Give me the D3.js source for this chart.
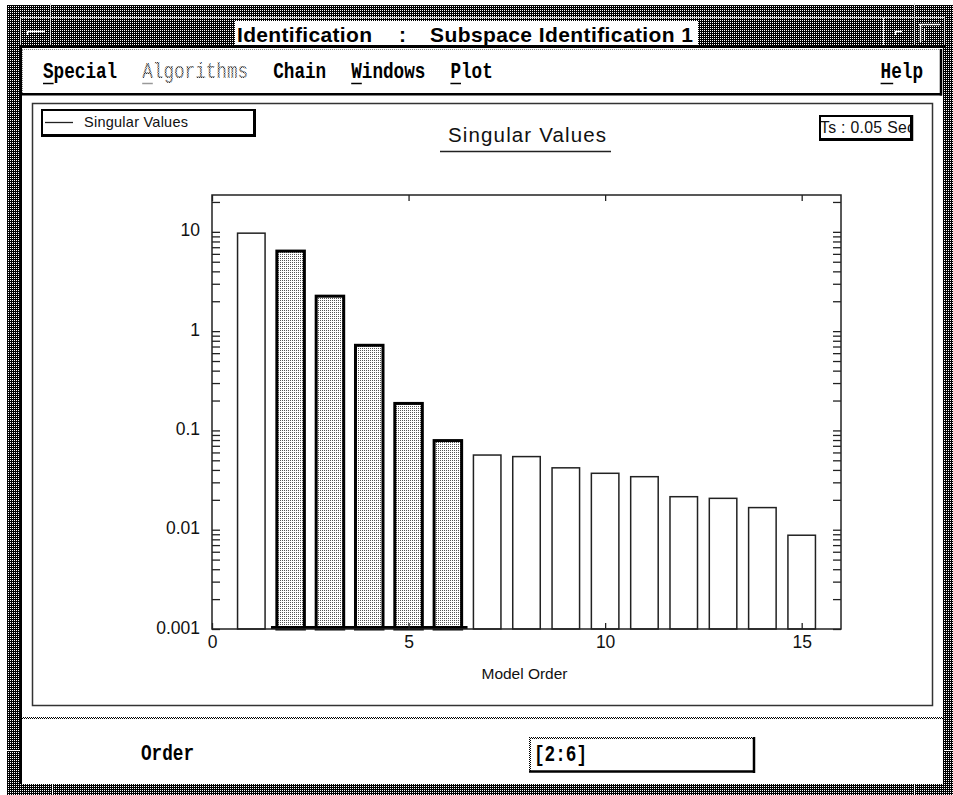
<!DOCTYPE html>
<html>
<head>
<meta charset="utf-8">
<script src="https://cdn.jsdelivr.net/npm/d3@7"></script>
<style>
  html, body { margin: 0; padding: 0; background: #fff; }
  svg { display: block; }
</style>
</head>
<body>
<svg id="win" width="953" height="795"></svg>
<script>
"use strict";

// chart data
const orders = [1, 2, 3, 4, 5, 6, 7, 8, 9, 10, 11, 12, 13, 14, 15];
const singularValues = [9.7, 6.4, 2.25, 0.72, 0.187, 0.079, 0.0565, 0.0545, 0.042, 0.037, 0.0342, 0.0215, 0.0207, 0.0167, 0.0088];
const selectedRange = [2, 6];
const yTicks = [0.001, 0.01, 0.1, 1, 10];
const yTickLabels = ["0.001", "0.01", "0.1", "1", "10"];
const xTicks = [0, 5, 10, 15];

// window texts
const menuItems = ["Special", "Algorithms", "Chain", "Windows", "Plot"];
const disabledItems = ["Algorithms"];
const underlinedItems = ["Special", "Algorithms", "Windows", "Plot", "Help"];
const windowTitle = ["Identification", ":", "Subspace Identification 1"];

const svg = d3.select("#win");
const defs = svg.append("defs");

/**
 * Small pixel pattern, like the X11 stipples of the original window.
 */
function pixelPattern(id, bg, fg, cells) {
  const p = defs.append("pattern")
    .attr("id", id)
    .attr("patternUnits", "userSpaceOnUse")
    .attr("width", 2).attr("height", 2);
  p.append("rect").attr("width", 2).attr("height", 2).attr("fill", bg);
  cells.forEach(c => {
    p.append("rect").attr("x", c[0]).attr("y", c[1])
      .attr("width", 1).attr("height", 1).attr("fill", fg);
  });
}
pixelPattern("frame", "#000", "#fff", [[0, 0]]);
pixelPattern("checker", "#fff", "#000", [[0, 0], [1, 1]]);
pixelPattern("dots", "#fff", "#555", [[0, 0]]);

function box(x0, y0, x1, y1, fill) {
  return svg.append("rect")
    .attr("x", x0).attr("y", y0)
    .attr("width", x1 - x0).attr("height", y1 - y0)
    .attr("fill", fill);
}

function line(x1, y1, x2, y2, color, w) {
  return svg.append("line")
    .attr("x1", x1).attr("y1", y1).attr("x2", x2).attr("y2", y2)
    .attr("stroke", color).attr("stroke-width", w);
}

// bitmap-looking bold serif, monospaced
const charW = 10.6;
function monoText(x, y, str, fill, weight) {
  return svg.append("text")
    .attr("transform", `translate(${x},${y}) scale(1,1.25)`)
    .attr("font-family", "'Liberation Mono', 'Courier New', monospace")
    .attr("font-weight", weight || "bold")
    .attr("font-size", charW / 0.6)
    .attr("fill", fill || "#000")
    .text(str);
}

// ---- window frame ----
box(7, 5, 953, 795, "url(#frame)");
box(22, 48, 943, 784, "#fff");
box(20, 48, 22, 784, "#000");
box(20, 45, 945, 48, "#000");

line(20, 17.5, 945, 17.5, "#ccc", 1);
[20.5, 883.5, 944.5].forEach(xx => line(xx, 17, xx, 45, "#ddd", 1));
[50.5, 914.5].forEach(xx => line(xx, 3, xx, 45, "#ddd", 1));
line(7, 750.5, 20, 750.5, "#fff", 1);
line(945, 750.5, 953, 750.5, "#fff", 1);
line(52.5, 784, 52.5, 795, "#fff", 1);
line(914.5, 784, 914.5, 795, "#fff", 1);

// window menu button and right buttons
line(27, 31.5, 45, 31.5, "#fff", 1.5);
line(27.5, 31, 27.5, 35, "#fff", 1.5);
line(895, 31.5, 902, 31.5, "#fff", 1.5);
line(895.5, 31, 895.5, 35, "#fff", 1.5);
line(919, 24.5, 940, 24.5, "#fff", 1.5);
line(920.5, 24, 920.5, 42, "#fff", 1.5);
line(924.5, 28, 924.5, 40, "#fff", 1);

// title label
box(235, 21, 698, 45, "#fff");
const titleFont = "'Liberation Sans', Arial, sans-serif";
const titleX = [237, 399, 430];
const titleW = [135, 5, 263];
windowTitle.forEach((t, i) => {
  svg.append("text")
    .attr("x", titleX[i]).attr("y", 42)
    .attr("font-family", titleFont).attr("font-weight", "bold")
    .attr("font-size", 21)
    .attr("textLength", titleW[i]).attr("lengthAdjust", "spacing")
    .text(t);
});

// ---- menu bar ----
box(22, 50, 941, 94, "#fff");
line(22, 49.5, 941, 49.5, "#888", 1).attr("stroke-dasharray", "1,1");
line(22.5, 50, 22.5, 94, "#888", 1).attr("stroke-dasharray", "1,1");
line(941, 49, 941, 95.5, "#000", 2.5);
line(22, 94.2, 942, 94.2, "#000", 2.5);

let mx = 43;
menuItems.forEach(item => {
  const off = disabledItems.includes(item);
  monoText(mx, 78, item, off ? "url(#checker)" : "#000", off ? "normal" : "bold");
  if (underlinedItems.includes(item))
    line(mx, 83.5, mx + charW, 83.5, off ? "#999" : "#000", 1.5);
  mx += item.length * charW + 25;
});
const helpX = 923 - 4 * charW;
monoText(helpX, 78, "Help");
line(helpX, 83.5, helpX + charW + 2, 83.5, "#000", 1.5);

// ---- plot panel ----
svg.append("rect")
  .attr("x", 32.5).attr("y", 103.5).attr("width", 900).attr("height", 602)
  .attr("fill", "#fff").attr("stroke", "#333").attr("stroke-width", 1.5);

const plotFont = "'Liberation Sans', Arial, Helvetica, sans-serif";
const plotL = 212, plotR = 841, plotT = 195, plotB = 629;

const x = d3.scaleLinear().domain([0, 16]).range([plotL, plotR]);
const y = d3.scaleLog().domain([0.001, 23.5]).range([plotB, plotT]);

// bars
const barHalf = 0.35;
const inSel = o => o >= selectedRange[0] && o <= selectedRange[1];
svg.append("g").selectAll("rect")
  .data(orders.map((o, i) => ({order: o, value: singularValues[i]})))
  .join("rect")
  .attr("x", d => x(d.order - barHalf))
  .attr("width", d => x(d.order + barHalf) - x(d.order - barHalf))
  .attr("y", d => y(d.value))
  .attr("height", d => y(0.001) - y(d.value))
  .attr("fill", d => inSel(d.order) ? "url(#dots)" : "#fff")
  .attr("stroke", d => inSel(d.order) ? "#000" : "#222")
  .attr("stroke-width", d => inSel(d.order) ? 3 : 1.5);

// selected orders marker on the baseline
line(x(selectedRange[0] - 0.5), plotB - 1.5, x(selectedRange[1] + 0.5), plotB - 1.5, "#000", 3);

// minor + major tick positions on the log axis
const logTicks = [];
yTicks.forEach(d => {
  for (let m = 1; m <= 9; m++) {
    if (d * m <= y.domain()[1]) logTicks.push(d * m);
  }
});

function styleAxis(g) {
  g.select(".domain").remove();
  g.selectAll(".tick line").attr("stroke", "#222").attr("stroke-width", 1.3);
  g.selectAll("text")
    .attr("font-family", plotFont).attr("font-size", 17.5).attr("fill", "#111");
}

svg.append("g").attr("transform", `translate(${plotL},0)`)
  .call(d3.axisRight(y).tickValues(logTicks).tickSize(8).tickFormat(""))
  .call(styleAxis);
svg.append("g").attr("transform", `translate(${plotR},0)`)
  .call(d3.axisLeft(y).tickValues(logTicks).tickSize(8).tickFormat(""))
  .call(styleAxis);
svg.append("g").attr("transform", `translate(${plotL},-1.5)`)
  .call(d3.axisLeft(y).tickValues(yTicks).tickSize(0).tickPadding(12)
    .tickFormat((d, i) => yTickLabels[i]))
  .call(styleAxis);

svg.append("g").attr("transform", `translate(0,${plotT})`)
  .call(d3.axisBottom(x).tickValues(xTicks).tickSize(6).tickFormat(""))
  .call(styleAxis);
svg.append("g").attr("transform", `translate(0,${plotB})`)
  .call(d3.axisTop(x).tickValues(xTicks).tickSize(6).tickFormat(""))
  .call(styleAxis);
svg.append("g").attr("transform", `translate(0,${plotB})`)
  .call(d3.axisBottom(x).tickValues(xTicks).tickSize(0).tickPadding(7))
  .call(styleAxis);

// plot frame
svg.append("rect")
  .attr("x", plotL).attr("y", plotT)
  .attr("width", plotR - plotL).attr("height", plotB - plotT)
  .attr("fill", "none").attr("stroke", "#222").attr("stroke-width", 1.5);

// titles
svg.append("text")
  .attr("x", 527).attr("y", 142).attr("text-anchor", "middle")
  .attr("font-family", plotFont).attr("font-size", 20.5).attr("fill", "#111")
  .attr("textLength", 158).attr("lengthAdjust", "spacing")
  .text("Singular Values");
line(440, 151.5, 611, 151.5, "#222", 1.3);

svg.append("text")
  .attr("x", 524.5).attr("y", 679).attr("text-anchor", "middle")
  .attr("font-family", plotFont).attr("font-size", 15.5).attr("fill", "#111")
  .attr("textLength", 86).attr("lengthAdjust", "spacing")
  .text("Model Order");

// legend
box(41, 109, 256, 137, "#000");
box(43, 111, 253, 134, "#fff");
line(45, 122.5, 73, 122.5, "#222", 1.3);
svg.append("text")
  .attr("x", 84).attr("y", 127)
  .attr("font-family", plotFont).attr("font-size", 14.5).attr("fill", "#111")
  .attr("textLength", 104).attr("lengthAdjust", "spacing")
  .text("Singular Values");

// sample time box
defs.append("clipPath").attr("id", "tsclip")
  .append("rect").attr("x", 819).attr("y", 115).attr("width", 93).attr("height", 25);
box(819, 115, 913, 141, "#fff");
svg.append("text")
  .attr("x", 820).attr("y", 133)
  .attr("clip-path", "url(#tsclip)")
  .attr("font-family", plotFont).attr("font-size", 15.8).attr("fill", "#111")
  .attr("textLength", 95).attr("lengthAdjust", "spacing")
  .text("Ts : 0.05 Sec");
svg.append("rect")
  .attr("x", 820).attr("y", 116).attr("width", 91).attr("height", 23)
  .attr("fill", "none").attr("stroke", "#000").attr("stroke-width", 2);
line(912.5, 115, 912.5, 141, "#000", 1.5);
line(819, 140.2, 913, 140.2, "#000", 1.5);

// ---- bottom area ----
box(22, 717, 943, 719, "url(#checker)");
monoText(141, 760, "Order");

box(529, 737, 755, 772, "#fff");
box(529, 737, 755, 739, "url(#checker)");
box(529, 737, 531, 772, "url(#checker)");
line(754, 737, 754, 773, "#000", 2.5);
line(529, 771.5, 755, 771.5, "#000", 2.5);
monoText(534, 761, "[2:6]");
</script>
</body>
</html>
